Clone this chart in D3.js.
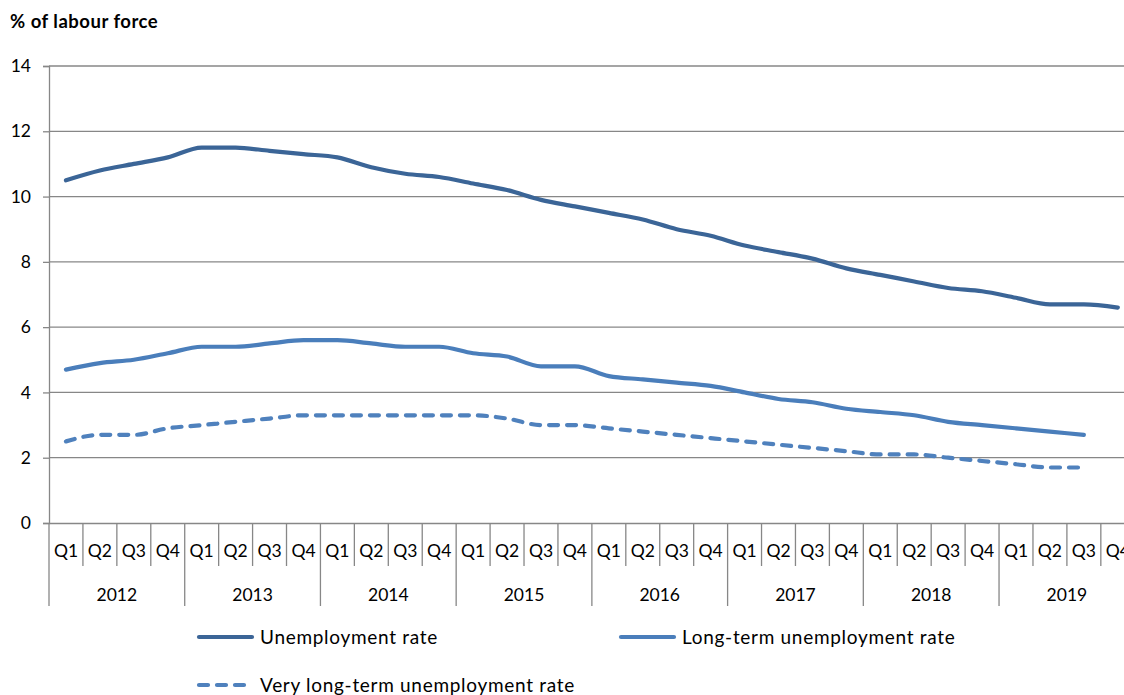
<!DOCTYPE html>
<html><head><meta charset="utf-8">
<script src="https://cdn.jsdelivr.net/npm/d3@7"></script>
<style>
html,body{margin:0;padding:0;background:#fff;}
svg{display:block;}
text{font-family:Lato,"Open Sans",sans-serif;fill:#000;}
</style></head>
<body>
<svg id="chart" width="1124" height="695"></svg>
<script>
const years = ["2012","2013","2014","2015","2016","2017","2018","2019"];
const quarters = ["Q1","Q2","Q3","Q4"];
const yTicks = [0,2,4,6,8,10,12,14];
const unemployment = [10.5,10.8,11.0,11.2, 11.5,11.5,11.4,11.3, 11.2,10.9,10.7,10.6, 10.4,10.2,9.9,9.7, 9.5,9.3,9.0,8.8, 8.5,8.3,8.1,7.8, 7.6,7.4,7.2,7.1, 6.9,6.7,6.7,6.6];
const longTerm = [4.7,4.9,5.0,5.2, 5.4,5.4,5.5,5.6, 5.6,5.5,5.4,5.4, 5.2,5.1,4.8,4.8, 4.5,4.4,4.3,4.2, 4.0,3.8,3.7,3.5, 3.4,3.3,3.1,3.0, 2.9,2.8,2.7,null];
const veryLongTerm = [2.5,2.7,2.7,2.9, 3.0,3.1,3.2,3.3, 3.3,3.3,3.3,3.3, 3.3,3.2,3.0,3.0, 2.9,2.8,2.7,2.6, 2.5,2.4,2.3,2.2, 2.1,2.1,2.0,1.9, 1.8,1.7,1.7,null];
const seriesNames = ["Unemployment rate","Long-term unemployment rate","Very long-term unemployment rate"];

const svg = d3.select("#chart");
const mLeft = 49, mTop = 66, mBottom = 523, qW = 33.93;
const periods = [];
years.forEach(yv => quarters.forEach(q => periods.push(yv + " " + q)));
const x = d3.scaleBand().domain(periods).range([mLeft, mLeft + periods.length * qW]).padding(0);
const xr = x.range()[1];
const y = d3.scaleLinear().domain([0,14]).range([mBottom, mTop]);
const gridCol = "#878787";

// title
svg.append("text").attr("x",10).attr("y",28).attr("font-size",18.5).attr("font-weight","bold").attr("letter-spacing",0.5).text("% of labour force");

// gridlines
svg.append("g").selectAll("line").data(yTicks.filter(d=>d>0)).join("line")
  .attr("x1",mLeft).attr("x2",xr).attr("y1",d=>y(d)).attr("y2",d=>y(d))
  .attr("stroke",gridCol).attr("stroke-width",1.3);

// y axis
const yAxis = d3.axisLeft(y).tickValues(yTicks).tickSize(6).tickPadding(12).tickFormat(d3.format("d"));
const gy = svg.append("g").attr("transform",`translate(${mLeft},0)`).call(yAxis);
gy.select(".domain").attr("stroke",gridCol).attr("stroke-width",1.3);
gy.selectAll(".tick line").attr("stroke",gridCol).attr("stroke-width",1.3);
gy.selectAll(".tick text").attr("font-size",17.5).attr("font-family","Lato,sans-serif").attr("fill","#000");

// x axis (quarters)
const xAxis = d3.axisBottom(x).tickSize(0).tickFormat(d => d.split(" ")[1]);
const gx = svg.append("g").attr("transform",`translate(0,${mBottom})`).call(xAxis);
gx.select(".domain").attr("stroke",gridCol).attr("stroke-width",1.3);
gx.selectAll(".tick text").attr("font-size",17.5).attr("font-family","Lato,sans-serif").attr("fill","#000").attr("dy",0).attr("y",34);

// quarter separators
svg.append("g").selectAll("line").data(periods).join("line")
  .attr("x1",d=>x(d)).attr("x2",d=>x(d)).attr("y1",mBottom).attr("y2",d=>d.endsWith("Q1")?606:566)
  .attr("stroke",gridCol).attr("stroke-width",1.3);
// year labels
svg.append("g").selectAll("text").data(years).join("text")
  .attr("x",yr => x(yr+" Q1") + 2*qW).attr("y",601).attr("text-anchor","middle").attr("font-size",17.5).text(d=>d);

// lines
const mk = arr => arr.map((v,i)=>({p:periods[i],v}));
const line = d3.line().defined(d=>d.v!==null).x(d=>x(d.p)+x.bandwidth()/2).y(d=>y(d.v)).curve(d3.curveMonotoneX);
const styles = [
  {data:unemployment, color:"#3B6597", dash:null},
  {data:longTerm, color:"#4A7EBB", dash:null},
  {data:veryLongTerm, color:"#4F81BD", dash:"9,9"}
];
styles.forEach(s=>{
  svg.append("path").datum(mk(s.data)).attr("d",line).attr("fill","none")
    .attr("stroke",s.color).attr("stroke-width",4.2).attr("stroke-linecap","round").attr("stroke-linejoin","round")
    .attr("stroke-dasharray",s.dash);
});

// legend
const leg = [
  {x:197,y:637,i:0},{x:619,y:637,i:1},{x:197,y:685,i:2}
];
leg.forEach(l=>{
  const s = styles[l.i];
  svg.append("line").attr("x1",l.x+2).attr("x2",l.x+55).attr("y1",l.y).attr("y2",l.y)
    .attr("stroke",s.color).attr("stroke-width",4.2).attr("stroke-linecap","round").attr("stroke-dasharray",s.dash);
  svg.append("text").attr("x",l.x+63).attr("y",l.y+6.5).attr("font-size",19).attr("letter-spacing",0.7).text(seriesNames[l.i]);
});
</script>
</body></html>
